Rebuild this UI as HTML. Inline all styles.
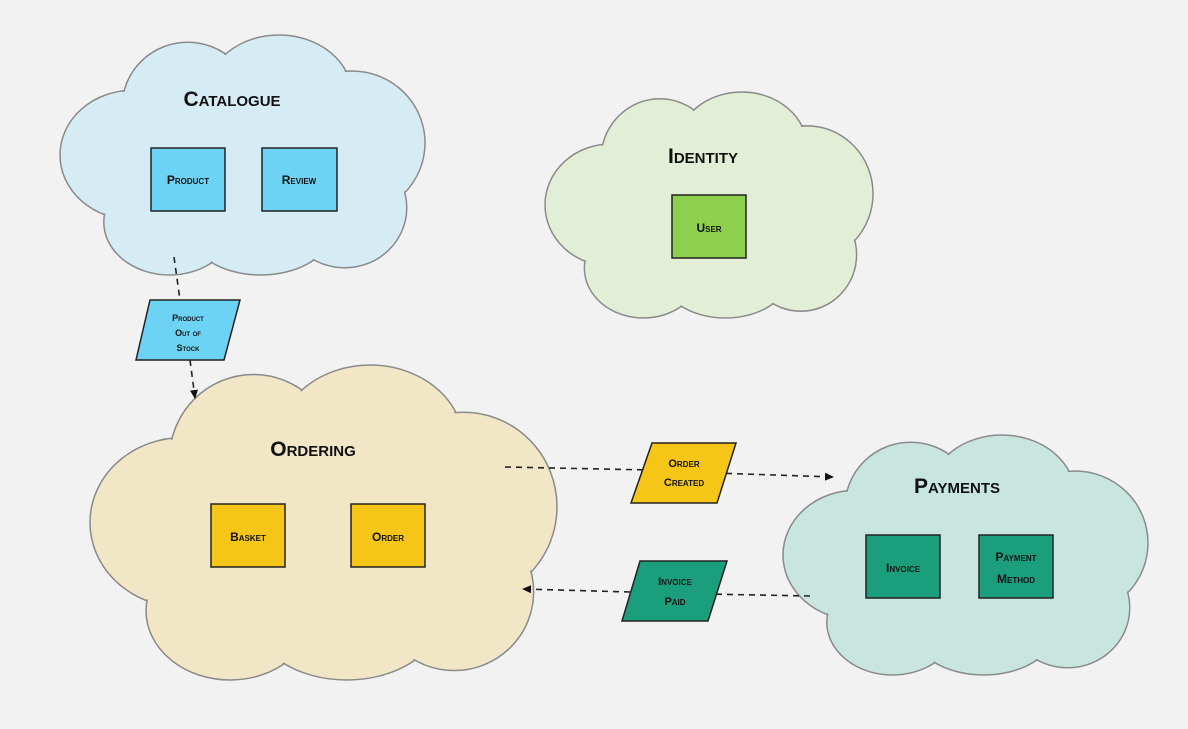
<!DOCTYPE html>
<html><head><style>
body{margin:0;background:#f2f2f2;}
text{font-family:"Liberation Sans",sans-serif;font-weight:bold;font-variant:small-caps;fill:#111;text-anchor:middle;}
</style></head><body>
<svg width="1188" height="724" viewBox="0 0 1188 724" xmlns="http://www.w3.org/2000/svg">
<defs>
<marker id="ar" markerWidth="10" markerHeight="10" refX="8" refY="5" orient="auto" markerUnits="userSpaceOnUse"><path d="M0,1 L9,5 L0,9 z" fill="#111"/></marker>
</defs>
<rect width="1188" height="724" fill="#f2f2f2"/>
<g id="clouds">
<svg x="60" y="35" width="365" height="240" viewBox="0 0 1 1" preserveAspectRatio="none" overflow="visible">
<g fill="#d6ecf5" stroke="#8a8a8a" stroke-width="1.5">
<ellipse cx=".2" cy=".5" rx=".2" ry=".27" vector-effect="non-scaling-stroke"/><ellipse cx=".35" cy=".3" rx=".18" ry=".27" vector-effect="non-scaling-stroke"/><ellipse cx=".6" cy=".25" rx=".2" ry=".25" vector-effect="non-scaling-stroke"/><ellipse cx=".8" cy=".45" rx=".2" ry=".3" vector-effect="non-scaling-stroke"/><ellipse cx=".3" cy=".78" rx=".18" ry=".22" vector-effect="non-scaling-stroke"/><ellipse cx=".55" cy=".8" rx=".2" ry=".2" vector-effect="non-scaling-stroke"/><ellipse cx=".78" cy=".72" rx=".17" ry=".25" vector-effect="non-scaling-stroke"/></g>
<g fill="#d6ecf5"><ellipse cx=".5" cy=".55" rx=".42" ry=".3"/><ellipse cx=".2" cy=".5" rx=".197" ry=".265"/><ellipse cx=".35" cy=".3" rx=".177" ry=".265"/><ellipse cx=".6" cy=".25" rx=".197" ry=".245"/><ellipse cx=".8" cy=".45" rx=".197" ry=".295"/><ellipse cx=".3" cy=".78" rx=".177" ry=".215"/><ellipse cx=".55" cy=".8" rx=".197" ry=".195"/><ellipse cx=".78" cy=".72" rx=".167" ry=".245"/></g>
</svg>
<svg x="545" y="92" width="328" height="226" viewBox="0 0 1 1" preserveAspectRatio="none" overflow="visible">
<g fill="#e2eed6" stroke="#8a8a8a" stroke-width="1.5">
<ellipse cx=".2" cy=".5" rx=".2" ry=".27" vector-effect="non-scaling-stroke"/><ellipse cx=".35" cy=".3" rx=".18" ry=".27" vector-effect="non-scaling-stroke"/><ellipse cx=".6" cy=".25" rx=".2" ry=".25" vector-effect="non-scaling-stroke"/><ellipse cx=".8" cy=".45" rx=".2" ry=".3" vector-effect="non-scaling-stroke"/><ellipse cx=".3" cy=".78" rx=".18" ry=".22" vector-effect="non-scaling-stroke"/><ellipse cx=".55" cy=".8" rx=".2" ry=".2" vector-effect="non-scaling-stroke"/><ellipse cx=".78" cy=".72" rx=".17" ry=".25" vector-effect="non-scaling-stroke"/></g>
<g fill="#e2eed6"><ellipse cx=".5" cy=".55" rx=".42" ry=".3"/><ellipse cx=".2" cy=".5" rx=".197" ry=".265"/><ellipse cx=".35" cy=".3" rx=".177" ry=".265"/><ellipse cx=".6" cy=".25" rx=".197" ry=".245"/><ellipse cx=".8" cy=".45" rx=".197" ry=".295"/><ellipse cx=".3" cy=".78" rx=".177" ry=".215"/><ellipse cx=".55" cy=".8" rx=".197" ry=".195"/><ellipse cx=".78" cy=".72" rx=".167" ry=".245"/></g>
</svg>
<svg x="90" y="365" width="467" height="315" viewBox="0 0 1 1" preserveAspectRatio="none" overflow="visible">
<g fill="#f1e6c6" stroke="#8a8a8a" stroke-width="1.5">
<ellipse cx=".2" cy=".5" rx=".2" ry=".27" vector-effect="non-scaling-stroke"/><ellipse cx=".35" cy=".3" rx=".18" ry=".27" vector-effect="non-scaling-stroke"/><ellipse cx=".6" cy=".25" rx=".2" ry=".25" vector-effect="non-scaling-stroke"/><ellipse cx=".8" cy=".45" rx=".2" ry=".3" vector-effect="non-scaling-stroke"/><ellipse cx=".3" cy=".78" rx=".18" ry=".22" vector-effect="non-scaling-stroke"/><ellipse cx=".55" cy=".8" rx=".2" ry=".2" vector-effect="non-scaling-stroke"/><ellipse cx=".78" cy=".72" rx=".17" ry=".25" vector-effect="non-scaling-stroke"/></g>
<g fill="#f1e6c6"><ellipse cx=".5" cy=".55" rx=".42" ry=".3"/><ellipse cx=".2" cy=".5" rx=".197" ry=".265"/><ellipse cx=".35" cy=".3" rx=".177" ry=".265"/><ellipse cx=".6" cy=".25" rx=".197" ry=".245"/><ellipse cx=".8" cy=".45" rx=".197" ry=".295"/><ellipse cx=".3" cy=".78" rx=".177" ry=".215"/><ellipse cx=".55" cy=".8" rx=".197" ry=".195"/><ellipse cx=".78" cy=".72" rx=".167" ry=".245"/></g>
</svg>
<svg x="783" y="435" width="365" height="240" viewBox="0 0 1 1" preserveAspectRatio="none" overflow="visible">
<g fill="#c8e6df" stroke="#8a8a8a" stroke-width="1.5">
<ellipse cx=".2" cy=".5" rx=".2" ry=".27" vector-effect="non-scaling-stroke"/><ellipse cx=".35" cy=".3" rx=".18" ry=".27" vector-effect="non-scaling-stroke"/><ellipse cx=".6" cy=".25" rx=".2" ry=".25" vector-effect="non-scaling-stroke"/><ellipse cx=".8" cy=".45" rx=".2" ry=".3" vector-effect="non-scaling-stroke"/><ellipse cx=".3" cy=".78" rx=".18" ry=".22" vector-effect="non-scaling-stroke"/><ellipse cx=".55" cy=".8" rx=".2" ry=".2" vector-effect="non-scaling-stroke"/><ellipse cx=".78" cy=".72" rx=".17" ry=".25" vector-effect="non-scaling-stroke"/></g>
<g fill="#c8e6df"><ellipse cx=".5" cy=".55" rx=".42" ry=".3"/><ellipse cx=".2" cy=".5" rx=".197" ry=".265"/><ellipse cx=".35" cy=".3" rx=".177" ry=".265"/><ellipse cx=".6" cy=".25" rx=".197" ry=".245"/><ellipse cx=".8" cy=".45" rx=".197" ry=".295"/><ellipse cx=".3" cy=".78" rx=".177" ry=".215"/><ellipse cx=".55" cy=".8" rx=".197" ry=".195"/><ellipse cx=".78" cy=".72" rx=".167" ry=".245"/></g>
</svg>
</g>
<!-- connectors (behind shapes) -->
<g stroke="#222" stroke-width="1.6" stroke-dasharray="6,5" fill="none">
<line x1="174" y1="257" x2="180" y2="300"/>
<line x1="190" y1="360" x2="195" y2="398" marker-end="url(#ar)"/>
<line x1="505" y1="467" x2="650" y2="470"/>
<line x1="715" y1="473" x2="833" y2="477" marker-end="url(#ar)"/>
<line x1="810" y1="596" x2="705" y2="594"/>
<line x1="630" y1="592" x2="523" y2="589" marker-end="url(#ar)"/>
</g>
<text x="232" y="106" font-size="21">Catalogue</text>
<text x="703" y="163" font-size="21">Identity</text>
<text x="313" y="456" font-size="21">Ordering</text>
<text x="957" y="493" font-size="21">Payments</text>
<g stroke="#222" stroke-width="1.5">
<rect x="151" y="148" width="74" height="63" fill="#6dd3f5"/>
<rect x="262" y="148" width="75" height="63" fill="#6dd3f5"/>
<rect x="672" y="195" width="74" height="63" fill="#8cd04e"/>
<rect x="211" y="504" width="74" height="63" fill="#f5c518"/>
<rect x="351" y="504" width="74" height="63" fill="#f5c518"/>
<rect x="866" y="535" width="74" height="63" fill="#1a9e7c"/>
<rect x="979" y="535" width="74" height="63" fill="#1a9e7c"/>
<polygon points="150,300 240,300 224,360 136,360" fill="#6dd3f5"/>
<polygon points="652,443 736,443 717,503 631,503" fill="#f5c518"/>
<polygon points="640,561 727,561 708,621 622,621" fill="#1a9e7c"/>
</g>
<g font-size="12">
<text x="188" y="184">Product</text>
<text x="299" y="184">Review</text>
<text x="709" y="232">User</text>
<text x="248" y="541">Basket</text>
<text x="388" y="541">Order</text>
<text x="903" y="572">Invoice</text>
<text x="1016" y="561">Payment</text>
<text x="1016" y="583">Method</text>
</g>
<g font-size="9">
<text x="188" y="321">Product</text>
<text x="188" y="336">Out of</text>
<text x="188" y="351">Stock</text>
</g>
<g font-size="11">
<text x="684" y="467">Order</text>
<text x="684" y="486">Created</text>
<text x="675" y="585">Invoice</text>
<text x="675" y="605">Paid</text>
</g>
</svg>
</body></html>
